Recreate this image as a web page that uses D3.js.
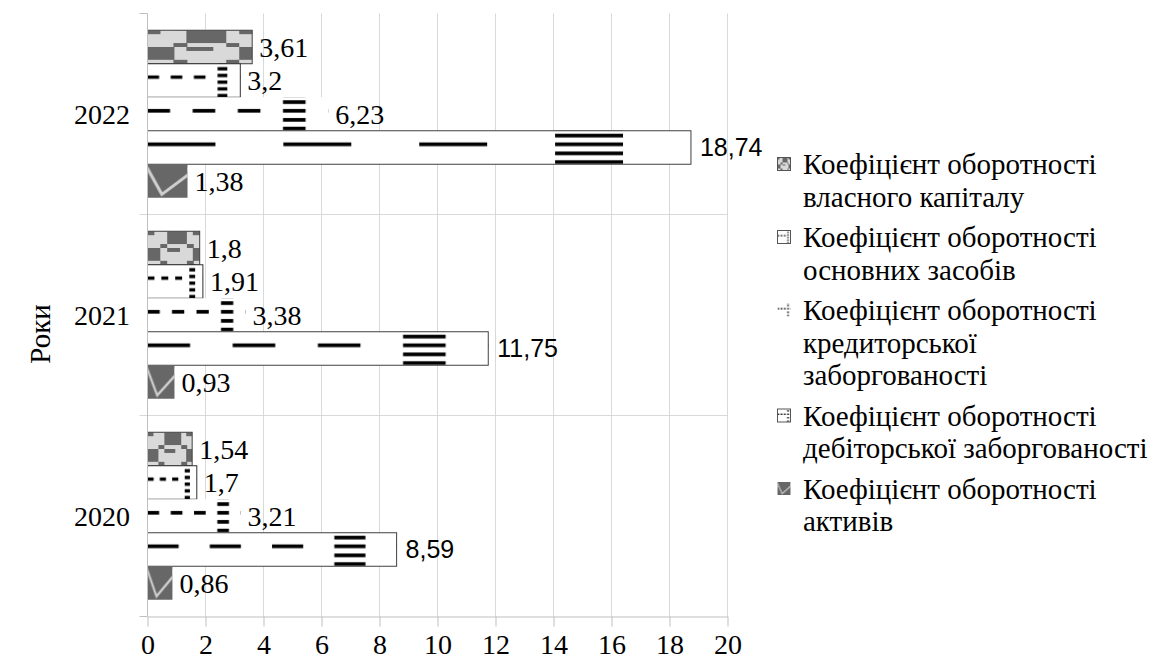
<!DOCTYPE html>
<html>
<head>
<meta charset="utf-8">
<script src="https://cdn.jsdelivr.net/npm/d3@7"></script>
<style>
  html, body { margin: 0; padding: 0; background: #fff; }
  svg { display: block; }
</style>
</head>
<body>
<svg width="1149" height="663"></svg>
<script>
// years, top to bottom
const years = ['2022', '2021', '2020']

// one array per indicator, values in the order of years
const equityTurnover = [3.61, 1.8, 1.54]         // власного капіталу
const fixedAssetsTurnover = [3.2, 1.91, 1.7]     // основних засобів
const payablesTurnover = [6.23, 3.38, 3.21]      // кредиторської заборгованості
const receivablesTurnover = [18.74, 11.75, 8.59] // дебіторської заборгованості
const assetsTurnover = [1.38, 0.93, 0.86]        // активів

const seriesLabels = [
  ['Коефіцієнт оборотності', 'власного капіталу'],
  ['Коефіцієнт оборотності', 'основних засобів'],
  ['Коефіцієнт оборотності', 'кредиторської', 'заборгованості'],
  ['Коефіцієнт оборотності', 'дебіторської заборгованості'],
  ['Коефіцієнт оборотності', 'активів']
]
const seriesValues = [equityTurnover, fixedAssetsTurnover, payablesTurnover, receivablesTurnover, assetsTurnover]

const xTicks = [0, 2, 4, 6, 8, 10, 12, 14, 16, 18, 20]
const axisTitle = 'Роки'

const serif = "'Liberation Serif', 'Times New Roman', serif"
const sans = "'Liberation Sans', Arial, sans-serif"
const dark = '#676767'
const light = '#d9d9d9'
const gridColor = '#d9d9d9'

let svg = d3.select('svg')
let defs = svg.append('defs')

function makePattern (id) {
  return defs.append('pattern')
    .attr('id', id)
    .attr('patternUnits', 'objectBoundingBox')
    .attr('patternContentUnits', 'objectBoundingBox')
    .attr('width', 1)
    .attr('height', 1)
}

// picture fills are stretched over each bar, like in the source chart
{
  // "sphere" picture, 8x8 cells
  let p = makePattern('fill0')
  p.append('rect').attr('width', 1).attr('height', 1).attr('fill', light)
  let cells = [
    'dllddd.d',
    'llldddll',
    'llldddll',
    'lldllldl',
    'ddlddlld',
    'ddllllld',
    'ddllllld',
    'lldllldl'
  ]
  cells.forEach(function (row, r) {
    row.split('').forEach(function (c, k) {
      if (c !== 'd') return
      p.append('rect')
        .attr('x', k / 8).attr('y', r / 8)
        .attr('width', 1 / 8 + 0.003).attr('height', 1 / 8 + 0.003)
        .attr('fill', dark)
        .attr('shape-rendering', 'crispEdges')
    })
  })
}
{
  // dotted line with a column of dots
  let p = makePattern('fill1')
  p.append('rect').attr('width', 1).attr('height', 1).attr('fill', '#fff')
  ;[0, 0.25, 0.5].forEach(function (s) {
    p.append('rect').attr('x', s).attr('y', 0.35).attr('width', 0.125).attr('height', 0.1).attr('fill', '#000')
  })
  ;[0.1, 0.3, 0.5, 0.7, 0.9].forEach(function (s) {
    p.append('rect').attr('x', 0.755).attr('y', s).attr('width', 0.105).attr('height', 0.1).attr('fill', '#000')
  })
}
{
  // same picture with wide stack lines, used for two series
  ;['fill2', 'fill3'].forEach(function (id) {
    let p = makePattern(id)
    p.append('rect').attr('width', 1).attr('height', 1).attr('fill', '#fff')
    ;[0, 0.25, 0.5].forEach(function (s) {
      p.append('rect').attr('x', s).attr('y', 0.35).attr('width', 0.125).attr('height', 0.11).attr('fill', '#000')
    })
    ;[0.09, 0.35, 0.62, 0.88].forEach(function (s) {
      p.append('rect').attr('x', 0.75).attr('y', s).attr('width', 0.125).attr('height', 0.11).attr('fill', '#000')
    })
  })
}
{
  // check mark picture
  let p = makePattern('fill4')
  p.append('rect').attr('width', 1).attr('height', 1).attr('fill', dark)
  p.append('polyline')
    .attr('points', '-0.02,0.08 0.36,0.9 1.03,0.3')
    .attr('fill', 'none')
    .attr('stroke', '#cfcfcf')
    .attr('stroke-width', 0.08)
}

const borders = ['#404040', '#303030', 'none', '#404040', 'none']

let x = d3.scaleLinear().domain([0, 20]).range([147.5, 727.5])
let y = d3.scaleBand().domain(years).range([13.5, 616.5])
let ys = d3.scaleBand().domain(d3.range(seriesValues.length)).range([0, y.bandwidth()]).paddingOuter(0.5)

let g = svg.append('g')

// vertical gridlines
g.selectAll('.vgrid').data(xTicks.slice(1)).enter().append('line')
  .attr('x1', d => x(d)).attr('x2', d => x(d))
  .attr('y1', y.range()[0]).attr('y2', y.range()[1])
  .attr('stroke', gridColor).attr('stroke-width', 1)

// horizontal gridlines between years
g.selectAll('.hgrid').data(years.slice(1)).enter().append('line')
  .attr('x1', x(0) - 8).attr('x2', x(20))
  .attr('y1', d => y(d)).attr('y2', d => y(d))
  .attr('stroke', gridColor).attr('stroke-width', 1)

// bars
seriesValues.forEach(function (vals, i) {
  let sg = g.append('g')
  sg.selectAll('rect').data(vals).enter().append('rect')
    .attr('x', x(0))
    .attr('y', (d, k) => y(years[k]) + ys(i))
    .attr('width', d => x(d) - x(0))
    .attr('height', ys.bandwidth())
    .attr('fill', 'url(#fill' + i + ')')
    .attr('stroke', borders[i])
    .attr('stroke-width', 1)

  sg.selectAll('text').data(vals).enter().append('text')
    .attr('x', d => x(d) + (i === 3 ? 9 : 7))
    .attr('y', (d, k) => y(years[k]) + ys(i) + ys.bandwidth() / 2)
    .attr('dy', '0.35em')
    .attr('font-family', i === 3 ? sans : serif)
    .attr('font-size', i === 3 ? 25 : 28)
    .attr('fill', '#000')
    .text(d => String(d).replace('.', ','))
})

// y axis
g.append('line')
  .attr('x1', x(0)).attr('x2', x(0))
  .attr('y1', y.range()[0]).attr('y2', y.range()[1])
  .attr('stroke', '#bfbfbf')
g.selectAll('.ytick').data([y.range()[0], y.range()[1]]).enter().append('line')
  .attr('x1', x(0) - 8).attr('x2', x(0))
  .attr('y1', d => d).attr('y2', d => d)
  .attr('stroke', '#bfbfbf')
g.selectAll('.ylabel').data(years).enter().append('text')
  .attr('x', 130)
  .attr('y', d => y(d) + y.bandwidth() / 2)
  .attr('dy', '0.35em')
  .attr('text-anchor', 'end')
  .attr('font-family', serif)
  .attr('font-size', 28)
  .text(d => d)

// x axis
let xAxis = g.append('g')
  .attr('transform', 'translate(0,' + y.range()[1] + ')')
  .call(d3.axisBottom(x).tickValues(xTicks).tickSize(10).tickPadding(8).tickSizeOuter(0))
xAxis.select('.domain').attr('stroke', '#bfbfbf')
xAxis.selectAll('line').attr('stroke', '#bfbfbf')
xAxis.selectAll('text')
  .attr('font-family', serif)
  .attr('font-size', 28)
  .attr('fill', '#000')

svg.append('text')
  .attr('transform', 'translate(50,334) rotate(-90)')
  .attr('text-anchor', 'middle')
  .attr('font-family', serif)
  .attr('font-size', 29)
  .text(axisTitle)

// legend
let legend = svg.append('g')
let base = 174
seriesLabels.forEach(function (lines, i) {
  legend.append('rect')
    .attr('x', 777.5).attr('y', base - 16.5)
    .attr('width', 13).attr('height', 13)
    .attr('fill', 'url(#fill' + i + ')')
    .attr('stroke', borders[i] === 'none' ? 'none' : '#555')
  lines.forEach(function (t, k) {
    legend.append('text')
      .attr('x', 803)
      .attr('y', base + k * 32.5)
      .attr('font-family', serif)
      .attr('font-size', 29)
      .text(t)
  })
  base += lines.length * 32.5 + 8
})
</script>
</body>
</html>
